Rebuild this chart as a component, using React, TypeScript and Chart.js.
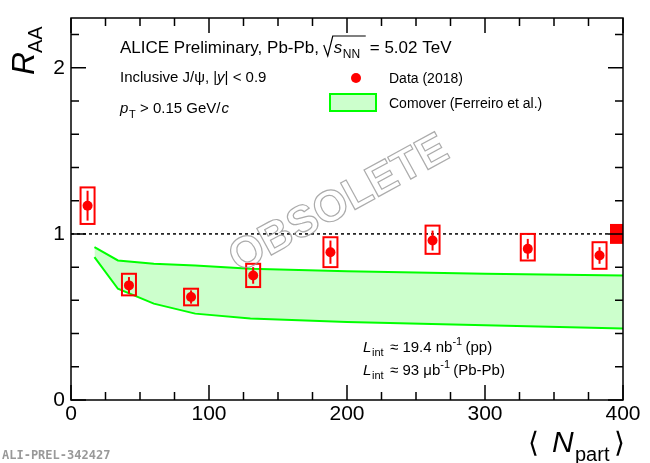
import { useEffect, useRef } from "react";
import { Chart, registerables, Plugin } from "chart.js";

Chart.register(...registerables);

// data
const nPart = [12, 42, 87, 132, 188, 262, 331, 383];
const raa = [1.17, 0.69, 0.62, 0.75, 0.89, 0.96, 0.91, 0.87];
const statErr = [0.09, 0.05, 0.04, 0.05, 0.07, 0.06, 0.06, 0.05];
const sysLo = [1.06, 0.63, 0.57, 0.68, 0.80, 0.88, 0.84, 0.79];
const sysHi = [1.28, 0.76, 0.67, 0.82, 0.98, 1.05, 1.0, 0.95];
const bandX = [17, 34, 60, 90, 130, 200, 300, 400];
const bandHi = [0.92, 0.84, 0.82, 0.81, 0.79, 0.775, 0.76, 0.75];
const bandLo = [0.86, 0.67, 0.58, 0.52, 0.49, 0.47, 0.45, 0.43];

const FONT = "'Liberation Sans', Arial, sans-serif";

const decor: Plugin = {
  id: "decor",
  afterDatasetsDraw(chart) {
    const { ctx, chartArea: a, scales } = chart;
    const x = scales.x, y = scales.y;
    ctx.save();
    // dotted line at 1
    ctx.strokeStyle = "#000";
    ctx.lineWidth = 1.5;
    ctx.setLineDash([3, 3]);
    ctx.beginPath();
    ctx.moveTo(a.left, y.getPixelForValue(1));
    ctx.lineTo(a.right, y.getPixelForValue(1));
    ctx.stroke();
    ctx.setLineDash([]);
    // sys boxes and stat bars
    ctx.strokeStyle = "#ff0000";
    ctx.lineWidth = 2;
    nPart.forEach((n, i) => {
      const px = x.getPixelForValue(n);
      const t = y.getPixelForValue(sysHi[i]);
      const b = y.getPixelForValue(sysLo[i]);
      ctx.strokeRect(px - 7, t, 14, b - t);
      ctx.beginPath();
      ctx.moveTo(px, y.getPixelForValue(raa[i] + statErr[i]));
      ctx.lineTo(px, y.getPixelForValue(raa[i] - statErr[i]));
      ctx.stroke();
    });
    // points on top
    ctx.fillStyle = "#ff0000";
    nPart.forEach((n, i) => {
      ctx.beginPath();
      ctx.arc(x.getPixelForValue(n), y.getPixelForValue(raa[i]), 5, 0, Math.PI * 2);
      ctx.fill();
    });
    // global uncertainty
    const gt = y.getPixelForValue(1.06), gb = y.getPixelForValue(0.94);
    ctx.fillRect(a.right - 13, gt, 13, gb - gt);
    ctx.restore();
  },
  afterDraw(chart) {
    const { ctx, chartArea: a, scales } = chart;
    const x = scales.x, y = scales.y;
    ctx.save();
    ctx.strokeStyle = "#000";
    ctx.lineWidth = 1.5;
    ctx.strokeRect(a.left, a.top, a.right - a.left, a.bottom - a.top);
    ctx.beginPath();
    for (let v = 0; v <= 400; v += 25) {
      const px = x.getPixelForValue(v);
      const l = v % 100 === 0 ? 15 : 8;
      ctx.moveTo(px, a.bottom); ctx.lineTo(px, a.bottom - l);
      ctx.moveTo(px, a.top); ctx.lineTo(px, a.top + l);
    }
    for (let k = 0; k <= 11; k++) {
      const v = k * 0.2;
      const py = y.getPixelForValue(v);
      const l = k % 5 === 0 ? 15 : 8;
      ctx.moveTo(a.left, py); ctx.lineTo(a.left + l, py);
      ctx.moveTo(a.right, py); ctx.lineTo(a.right - l, py);
    }
    ctx.stroke();

    ctx.fillStyle = "#000";
    ctx.textBaseline = "alphabetic";
    // y title, rotated
    ctx.save();
    ctx.translate(34, 75);
    ctx.rotate(-Math.PI / 2);
    ctx.font = `italic 32px ${FONT}`;
    ctx.fillText("R", 0, 0);
    ctx.font = `20px ${FONT}`;
    ctx.fillText("AA", 22, 8);
    ctx.restore();
    // x title
    ctx.font = `28px ${FONT}`;
    ctx.fillText("\u27E8", 528, 452);
    ctx.font = `italic 30px ${FONT}`;
    ctx.fillText("N", 552, 452);
    ctx.font = `20px ${FONT}`;
    ctx.fillText("part", 575, 461);
    ctx.font = `28px ${FONT}`;
    ctx.fillText("\u27E9", 614, 452);

    // header texts
    ctx.font = `17px ${FONT}`;
    ctx.fillText("ALICE Preliminary, Pb-Pb, ", 120, 53);
    const w = ctx.measureText("ALICE Preliminary, Pb-Pb, ").width;
    const sx = 120 + w;
    ctx.lineWidth = 1.2;
    ctx.beginPath();
    ctx.moveTo(sx, 45); ctx.lineTo(sx + 4, 56); ctx.lineTo(sx + 9, 36); ctx.lineTo(sx + 42, 36);
    ctx.stroke();
    ctx.font = `italic 17px ${FONT}`;
    ctx.fillText("s", sx + 10, 53);
    ctx.font = `12px ${FONT}`;
    ctx.fillText("NN", sx + 19, 58);
    ctx.font = `17px ${FONT}`;
    ctx.fillText("= 5.02 TeV", sx + 46, 53);

    ctx.font = `15px ${FONT}`;
    ctx.fillText("Inclusive J/\u03C8, |", 120, 82);
    let w2 = ctx.measureText("Inclusive J/\u03C8, |").width;
    ctx.font = `italic 15px ${FONT}`;
    ctx.fillText("y", 120 + w2, 82);
    w2 += ctx.measureText("y").width;
    ctx.font = `15px ${FONT}`;
    ctx.fillText("| < 0.9", 120 + w2, 82);

    ctx.font = `italic 15px ${FONT}`;
    ctx.fillText("p", 120, 113);
    ctx.font = `11px ${FONT}`;
    ctx.fillText("T", 129, 118);
    ctx.font = `15px ${FONT}`;
    ctx.fillText("> 0.15 GeV/", 140, 113);
    ctx.font = `italic 15px ${FONT}`;
    ctx.fillText("c", 140 + ctx.measureText("> 0.15 GeV/").width + 1, 113);

    // legend
    ctx.fillStyle = "#ff0000";
    ctx.beginPath();
    ctx.arc(356, 78, 5, 0, Math.PI * 2);
    ctx.fill();
    ctx.fillStyle = "#ccffcc";
    ctx.fillRect(330, 94, 46, 17);
    ctx.strokeStyle = "#00ff00";
    ctx.lineWidth = 2;
    ctx.strokeRect(330, 94, 46, 17);
    ctx.fillStyle = "#000";
    ctx.font = `14px ${FONT}`;
    ctx.fillText("Data (2018)", 389, 83);
    ctx.fillText("Comover (Ferreiro et al.)", 389, 108);

    // luminosity
    const lum = (yy: number, val: string, rest: string) => {
      ctx.font = `italic 15px ${FONT}`;
      ctx.fillText("L", 363, yy);
      ctx.font = `11px ${FONT}`;
      ctx.fillText("int", 372, yy + 4);
      ctx.font = `15px ${FONT}`;
      ctx.fillText(val, 390, yy);
      const vw = ctx.measureText(val).width;
      ctx.font = `11px ${FONT}`;
      ctx.fillText("-1", 390 + vw, yy - 7);
      ctx.font = `15px ${FONT}`;
      ctx.fillText(rest, 390 + vw + 13, yy);
    };
    lum(352, "\u2248 19.4 nb", "(pp)");
    lum(375, "\u2248 93 \u03BCb", "(Pb-Pb)");

    // watermark
    ctx.save();
    ctx.translate(345, 215);
    ctx.rotate(-0.5);
    ctx.font = `bold 44px ${FONT}`;
    ctx.textAlign = "center";
    ctx.strokeStyle = "rgba(150,150,150,0.8)";
    ctx.lineWidth = 1.2;
    ctx.strokeText("OBSOLETE", 0, 0);
    ctx.restore();

    ctx.font = `bold 12px 'DejaVu Sans Mono', monospace`;
    ctx.fillStyle = "#999";
    ctx.fillText("ALI-PREL-342427", 2, 459);
    ctx.restore();
  },
};

export default function App(): JSX.Element {
  const ref = useRef<HTMLCanvasElement | null>(null);
  useEffect(() => {
    document.body.style.margin = "0";
    if (!ref.current) return;
    const chart = new Chart(ref.current, {
      type: "scatter",
      data: {
        datasets: [
          {
            data: bandX.map((v, i) => ({ x: v, y: bandLo[i] })),
            showLine: true,
            borderColor: "#00ff00",
            borderWidth: 2,
            pointRadius: 0,
            fill: false,
          },
          {
            data: bandX.map((v, i) => ({ x: v, y: bandHi[i] })),
            showLine: true,
            borderColor: "#00ff00",
            backgroundColor: "#ccffcc",
            borderWidth: 2,
            pointRadius: 0,
            fill: "-1",
          },
        ],
      },
      options: {
        animation: false,
        responsive: false,
        layout: { padding: { top: 18, right: 27, left: 0, bottom: 0 } },
        plugins: { legend: { display: false }, tooltip: { enabled: false } },
        scales: {
          x: {
            type: "linear",
            min: 0,
            max: 400,
            grid: { display: false },
            border: { display: false },
            afterFit: (s: any) => { s.height = 63; },
            ticks: { stepSize: 100, color: "#000", padding: -6, font: { size: 21, family: FONT } },
          },
          y: {
            min: 0,
            max: 2.3,
            grid: { display: false },
            border: { display: false },
            afterFit: (s: any) => { s.width = 71; },
            afterBuildTicks: (s: any) => { s.ticks = [0, 1, 2].map((v) => ({ value: v })); },
            ticks: { color: "#000", padding: -2, font: { size: 21, family: FONT } },
          },
        },
      },
      plugins: [decor],
    });
    return () => chart.destroy();
  }, []);
  return <canvas ref={ref} width={650} height={463} style={{ display: "block" }} />;
}
